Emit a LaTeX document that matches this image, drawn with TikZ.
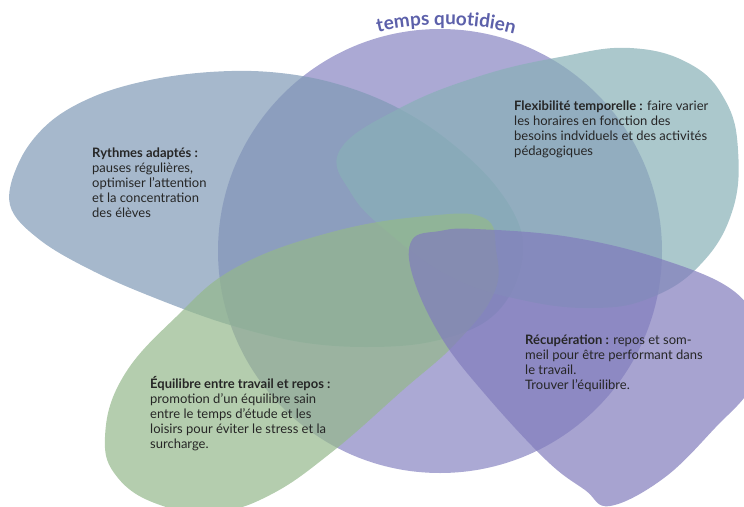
\documentclass[tikz,border=0pt]{standalone}
\usepackage{fontspec}
\setmainfont{Lato}
\usepackage{xcolor}
\definecolor{CIRCLECOLOR}{RGB}{135,132,194}
\definecolor{RHYTHMCOLOR}{RGB}{128,154,182}
\definecolor{FLEXCOLOR}{RGB}{136,176,183}
\definecolor{BALANCECOLOR}{RGB}{148,184,139}
\definecolor{RESTCOLOR}{RGB}{129,124,188}
\definecolor{TITLECOLOR}{RGB}{92,96,170}
\colorlet{TEXTCOLOR}{black!85}
\usepackage{tikz}
\usetikzlibrary{decorations.text}
\tikzset{
  blob-style/.style = {
    fill=#1, fill opacity=0.7, draw=none
  },
  label-style/.style = {
    anchor=north west, align=left, inner sep=0pt,
    font=\fontsize{13}{15}\selectfont, text=TEXTCOLOR
  },
  title-style/.style = {
    decorate,
    decoration={text along path, text align=center,
      text={|\fontsize{19}{19}\selectfont\bfseries\color{TITLECOLOR}|temps quotidien}}
  },
  main-style/.style = {
    x=1pt, y=-1pt
  }
}
\newcommand\displayName[1]{\textbf{#1}}
\def\createLabel name:#1 at:#2 text:#3;{
  \node [label-style] (#1) at #2 {#3};
}
\begin{document}
\begin{tikzpicture}[main-style]
  \useasboundingbox (0,0) rectangle (744,506);
  \clip (0,0) rectangle (744,506);

  % the day
  \fill[blob-style=CIRCLECOLOR] (440,251) circle (222);
  % rhythms
  \fill[blob-style=RHYTHMCOLOR] plot[smooth cycle, tension=0.6] coordinates {
    (10,205) (20,160) (50,122) (95,96) (150,80) (210,72) (270,72)
    (330,82) (390,104) (445,138) (495,185) (522,235) (515,285)
    (485,322) (430,342) (366,347) (300,342) (230,325) (160,300)
    (95,272) (40,240)};
  % flexibility
  \fill[blob-style=FLEXCOLOR] plot[smooth cycle, tension=0.7] coordinates {
    (340,150) (400,108) (480,76) (560,57) (630,48) (690,64) (725,100)
    (738,150) (732,212) (700,265) (650,298) (593,308) (522,300)
    (451,277) (389,233) (351,193)};
  % balance
  \fill[blob-style=BALANCECOLOR] plot[smooth cycle, tension=0.7] coordinates {
    (484,218) (496,250) (494,293) (456,343) (403,390) (332,452)
    (270,495) (215,512) (160,505) (118,478) (105,437) (123,377)
    (176,317) (237,267) (332,232) (427,216)};
  % recovery
  \fill[blob-style=RESTCOLOR] plot[smooth cycle, tension=0.65] coordinates {
    (412,240) (440,231) (475,229) (570,237) (664,260) (735,292)
    (758,335) (752,385) (715,428) (664,478) (610,506) (585,490)
    (546,460) (484,393) (441,337) (413,277)};

  \path[title-style] (364,36) .. controls (410,21) and (482,21) .. (528,38);

  \createLabel name:rhythm at:{(92,148)} text:{\displayName{Rythmes adaptés :}\\pauses régulières,\\optimiser l'attention\\et la concentration\\des élèves};
  \createLabel name:flex at:{(514,101)} text:{\displayName{Flexibilité temporelle :} faire varier\\les horaires en fonction des\\besoins indviduels et des activités\\pédagogiques};
  \createLabel name:balance at:{(150,376)} text:{\displayName{Équilibre entre travail et repos :}\\promotion d'un équilibre sain\\entre le temps d'étude et les\\loisirs pour éviter le stress et la\\surcharge.};
  \createLabel name:rest at:{(525,335)} text:{\displayName{Récupération :} repos et som-\\meil pour être performant dans\\le travail.\\Trouver l'équilibre.};
\end{tikzpicture}
\end{document}
